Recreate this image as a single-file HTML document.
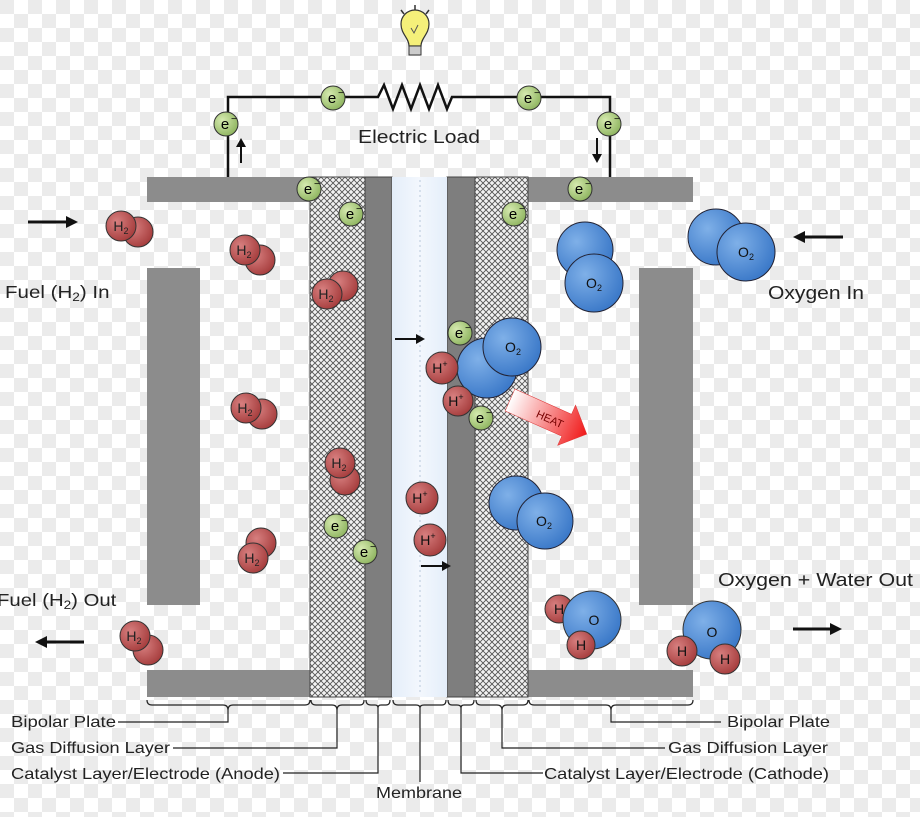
<!DOCTYPE html>
<html><head><meta charset="utf-8"><style>
html,body{margin:0;padding:0;width:920px;height:817px;overflow:hidden;background:#fff}
svg text{font-family:"Liberation Sans",sans-serif}
</style></head><body>
<svg width="920" height="817" viewBox="0 0 920 817" xmlns="http://www.w3.org/2000/svg">
<defs>
<pattern id="chk" width="28" height="28" patternUnits="userSpaceOnUse">
<rect width="28" height="28" fill="#fff"/><rect width="14" height="14" fill="#ebebeb"/><rect x="14" y="14" width="14" height="14" fill="#ebebeb"/>
</pattern>
<pattern id="hatch" width="6" height="6" patternUnits="userSpaceOnUse">
<rect width="6" height="6" fill="#f2f2f2"/><path d="M0,0L6,6M6,0L0,6" stroke="#555" stroke-width="0.9"/>
</pattern>
<radialGradient id="red" cx="0.35" cy="0.35" r="0.7"><stop offset="0" stop-color="#d77f7f"/><stop offset="1" stop-color="#a63d3d"/></radialGradient>
<radialGradient id="blue" cx="0.35" cy="0.35" r="0.7"><stop offset="0" stop-color="#7fb0e8"/><stop offset="1" stop-color="#3a78c8"/></radialGradient>
<radialGradient id="grn" cx="0.35" cy="0.35" r="0.7"><stop offset="0" stop-color="#d6eab0"/><stop offset="1" stop-color="#8fb560"/></radialGradient>
<linearGradient id="heat" x1="0" y1="0" x2="1" y2="0"><stop offset="0" stop-color="#fff"/><stop offset="1" stop-color="#f01818"/></linearGradient>
<linearGradient id="mem" x1="0" y1="0" x2="1" y2="0"><stop offset="0" stop-color="#e4eefa"/><stop offset="0.5" stop-color="#f3f7fd"/><stop offset="1" stop-color="#e4eefa"/></linearGradient>
<g id="el"><circle r="12" fill="url(#grn)" stroke="#333" stroke-width="1"/><text x="-1" y="5" font-size="15" text-anchor="middle">e</text><text x="5" y="-2" font-size="10">−</text></g>
</defs>
<rect width="920" height="817" fill="url(#chk)"/>

<path d="M228,177V97H378l6,-12 9,24 9,-24 9,24 9,-24 9,24 9,-24 9,24 5,-12H610V177" fill="none" stroke="#111" stroke-width="2.5"/>
<g transform="translate(415,32)">
<path d="M-6,14 C-6,6 -14,2 -14,-8 A14,14 0 1 1 14,-8 C14,2 6,6 6,14Z" fill="#f5f07a" stroke="#333" stroke-width="1.2"/>
<rect x="-6" y="14" width="12" height="9" fill="#ccc" stroke="#333" stroke-width="1"/>
<path d="M-4,-4l3,5 4,-8" stroke="#555" fill="none"/>
<path d="M-14,-22l3,4M0,-27v5M14,-22l-3,4" stroke="#333" stroke-width="1.5"/>
</g>
<text x="358" y="143" font-size="18" textLength="122" lengthAdjust="spacingAndGlyphs" fill="#222">Electric Load</text>

<g fill="#8c8c8c">
<rect x="147" y="177" width="163" height="25"/><rect x="528" y="177" width="165" height="25"/>
<rect x="147" y="670" width="163" height="27"/><rect x="528" y="670" width="165" height="27"/>
<rect x="147" y="268" width="53" height="337"/><rect x="639" y="268" width="54" height="337"/>
</g>
<rect x="310" y="177" width="55" height="520" fill="url(#hatch)" stroke="#444"/>
<rect x="475" y="177" width="53" height="520" fill="url(#hatch)" stroke="#444"/>
<rect x="365" y="177" width="27" height="520" fill="#7e7e7e" stroke="#444"/>
<rect x="447" y="177" width="28" height="520" fill="#7e7e7e" stroke="#444"/>
<rect x="392" y="177" width="55" height="520" fill="url(#mem)"/>
<line x1="420" y1="180" x2="420" y2="695" stroke="#b8c8dc" stroke-dasharray="2,3"/>

<g stroke="#111" stroke-width="3" fill="#111">
<line x1="28" y1="222" x2="68" y2="222"/><path d="M78,222l-12,-6v12z" stroke="none"/>
<line x1="843" y1="237" x2="803" y2="237"/><path d="M793,237l12,-6v12z" stroke="none"/>
<line x1="84" y1="642" x2="45" y2="642"/><path d="M35,642l12,-6v12z" stroke="none"/>
<line x1="793" y1="629" x2="832" y2="629"/><path d="M842,629l-12,-6v12z" stroke="none"/>
<line x1="395" y1="339" x2="417" y2="339" stroke-width="2"/><path d="M425,339l-9,-5v10z" stroke="none"/>
<line x1="421" y1="566" x2="443" y2="566" stroke-width="2"/><path d="M451,566l-9,-5v10z" stroke="none"/>
<line x1="241" y1="163" x2="241" y2="146" stroke-width="2"/><path d="M241,138l-5,9h10z" stroke="none"/>
<line x1="597" y1="138" x2="597" y2="155" stroke-width="2"/><path d="M597,163l-5,-9h10z" stroke="none"/>
</g>

<g transform="translate(510,400) rotate(24)">
<path d="M0,-12H62V-22L84,0 62,22V12H0Z" fill="url(#heat)" stroke="#d33" stroke-width="0.5"/>
<text x="30" y="5" font-size="11" fill="#700">HEAT</text>
</g>

<g stroke="#333" stroke-width="1" fill="url(#red)">
<circle cx="138" cy="232" r="15"/><circle cx="121" cy="226" r="15"/>
<circle cx="260" cy="260" r="15"/><circle cx="245" cy="250" r="15"/>
<circle cx="343" cy="286" r="15"/><circle cx="327" cy="294" r="15"/>
<circle cx="262" cy="414" r="15"/><circle cx="246" cy="408" r="15"/>
<circle cx="345" cy="480" r="15"/><circle cx="340" cy="463" r="15"/>
<circle cx="261" cy="543" r="15"/><circle cx="253" cy="558" r="15"/>
<circle cx="148" cy="650" r="15"/><circle cx="135" cy="636" r="15"/>
</g>
<g font-size="14" fill="#222" text-anchor="middle">
<text x="121" y="231">H<tspan font-size="9" dy="3">2</tspan></text>
<text x="244" y="255">H<tspan font-size="9" dy="3">2</tspan></text>
<text x="326" y="299">H<tspan font-size="9" dy="3">2</tspan></text>
<text x="245" y="413">H<tspan font-size="9" dy="3">2</tspan></text>
<text x="339" y="468">H<tspan font-size="9" dy="3">2</tspan></text>
<text x="252" y="563">H<tspan font-size="9" dy="3">2</tspan></text>
<text x="134" y="641">H<tspan font-size="9" dy="3">2</tspan></text>
</g>

<g stroke="#223" stroke-width="1" fill="url(#blue)">
<circle cx="585" cy="250" r="28"/><circle cx="594" cy="283" r="29"/>
<circle cx="716" cy="237" r="28"/><circle cx="746" cy="252" r="29"/>
<circle cx="487" cy="368" r="30"/><circle cx="512" cy="347" r="29"/>
<circle cx="516" cy="503" r="27"/><circle cx="545" cy="521" r="28"/>
</g>
<g font-size="14" fill="#111" text-anchor="middle">
<text x="594" y="288">O<tspan font-size="9" dy="3">2</tspan></text>
<text x="746" y="257">O<tspan font-size="9" dy="3">2</tspan></text>
<text x="513" y="352">O<tspan font-size="9" dy="3">2</tspan></text>
<text x="544" y="526">O<tspan font-size="9" dy="3">2</tspan></text>
</g>

<g stroke="#333" stroke-width="1" fill="url(#red)">
<circle cx="442" cy="368" r="16"/><circle cx="458" cy="401" r="15"/>
<circle cx="422" cy="498" r="16"/><circle cx="430" cy="540" r="16"/>
</g>
<g font-size="14" fill="#111" text-anchor="middle">
<text x="440" y="373">H<tspan font-size="9" dy="-6">+</tspan></text>
<text x="456" y="406">H<tspan font-size="9" dy="-6">+</tspan></text>
<text x="420" y="503">H<tspan font-size="9" dy="-6">+</tspan></text>
<text x="428" y="545">H<tspan font-size="9" dy="-6">+</tspan></text>
</g>

<g stroke="#333" stroke-width="1">
<circle cx="559" cy="609" r="14" fill="url(#red)"/>
<circle cx="592" cy="620" r="29" fill="url(#blue)"/>
<circle cx="581" cy="645" r="14" fill="url(#red)"/>
<circle cx="712" cy="630" r="29" fill="url(#blue)"/>
<circle cx="682" cy="651" r="15" fill="url(#red)"/>
<circle cx="725" cy="659" r="15" fill="url(#red)"/>
</g>
<g font-size="14" fill="#111" text-anchor="middle">
<text x="559" y="614">H</text><text x="594" y="625">O</text><text x="581" y="650">H</text>
<text x="712" y="637">O</text><text x="682" y="656">H</text><text x="725" y="664">H</text>
</g>

<use href="#el" x="333" y="98"/><use href="#el" x="529" y="98"/>
<use href="#el" x="226" y="124"/><use href="#el" x="609" y="124"/>
<use href="#el" x="309" y="189"/><use href="#el" x="351" y="214"/>
<use href="#el" x="580" y="189"/><use href="#el" x="514" y="214"/>
<use href="#el" x="460" y="333"/><use href="#el" x="481" y="418"/>
<use href="#el" x="336" y="526"/><use href="#el" x="365" y="552"/>

<g font-size="18" fill="#222">
<text x="5" y="298" transform="translate(5,298) scale(1.14,1) translate(-5,-298)">Fuel (H<tspan font-size="12" dy="3">2</tspan><tspan dy="-3">) In</tspan></text>
<text x="768" y="299" textLength="96" lengthAdjust="spacingAndGlyphs">Oxygen In</text>
<text x="718" y="586" textLength="195" lengthAdjust="spacingAndGlyphs">Oxygen + Water Out</text>
<text x="-3" y="606" transform="translate(-3,606) scale(1.13,1) translate(3,-606)">Fuel (H<tspan font-size="12" dy="3">2</tspan><tspan dy="-3">) Out</tspan></text>
</g>

<g fill="none" stroke="#222" stroke-width="1.2">
<path d="M147,700q0,5 5,5H223q5,0 5,5q0,-5 5,-5H305q5,0 5,-5M228,710V722H118"/>
<path d="M311,700q0,5 5,5H332q5,0 5,5q0,-5 5,-5H360q4,0 4,-5M337,710V748H173"/>
<path d="M366,700q0,5 5,5h4q3,0 3,3q0,-3 3,-3h5q4,0 4,-5M378,708V773H283"/>
<path d="M393,700q0,5 5,5H416q4,0 4,3q0,-3 4,-3H442q4,0 4,-5M420,708V782"/>
<path d="M448,700q0,5 4,5h5q4,0 4,3q0,-3 3,-3h6q4,0 4,-5M461,708V773H543"/>
<path d="M476,700q0,5 5,5H497q5,0 5,5q0,-5 5,-5H523q5,0 5,-5M502,710V748H665"/>
<path d="M529,700q0,5 5,5H606q5,0 5,5q0,-5 5,-5H688q5,0 5,-5M611,710V722H721"/>
</g>
<g font-size="16" fill="#222">
<text x="11" y="727" textLength="105" lengthAdjust="spacingAndGlyphs">Bipolar Plate</text>
<text x="11" y="753" textLength="159" lengthAdjust="spacingAndGlyphs">Gas Diffusion Layer</text>
<text x="11" y="779" textLength="269" lengthAdjust="spacingAndGlyphs">Catalyst Layer/Electrode (Anode)</text>
<text x="376" y="798" textLength="86" lengthAdjust="spacingAndGlyphs">Membrane</text>
<text x="727" y="727" textLength="103" lengthAdjust="spacingAndGlyphs">Bipolar Plate</text>
<text x="668" y="753" textLength="160" lengthAdjust="spacingAndGlyphs">Gas Diffusion Layer</text>
<text x="544" y="779" textLength="285" lengthAdjust="spacingAndGlyphs">Catalyst Layer/Electrode (Cathode)</text>
</g>
</svg>
</body></html>
